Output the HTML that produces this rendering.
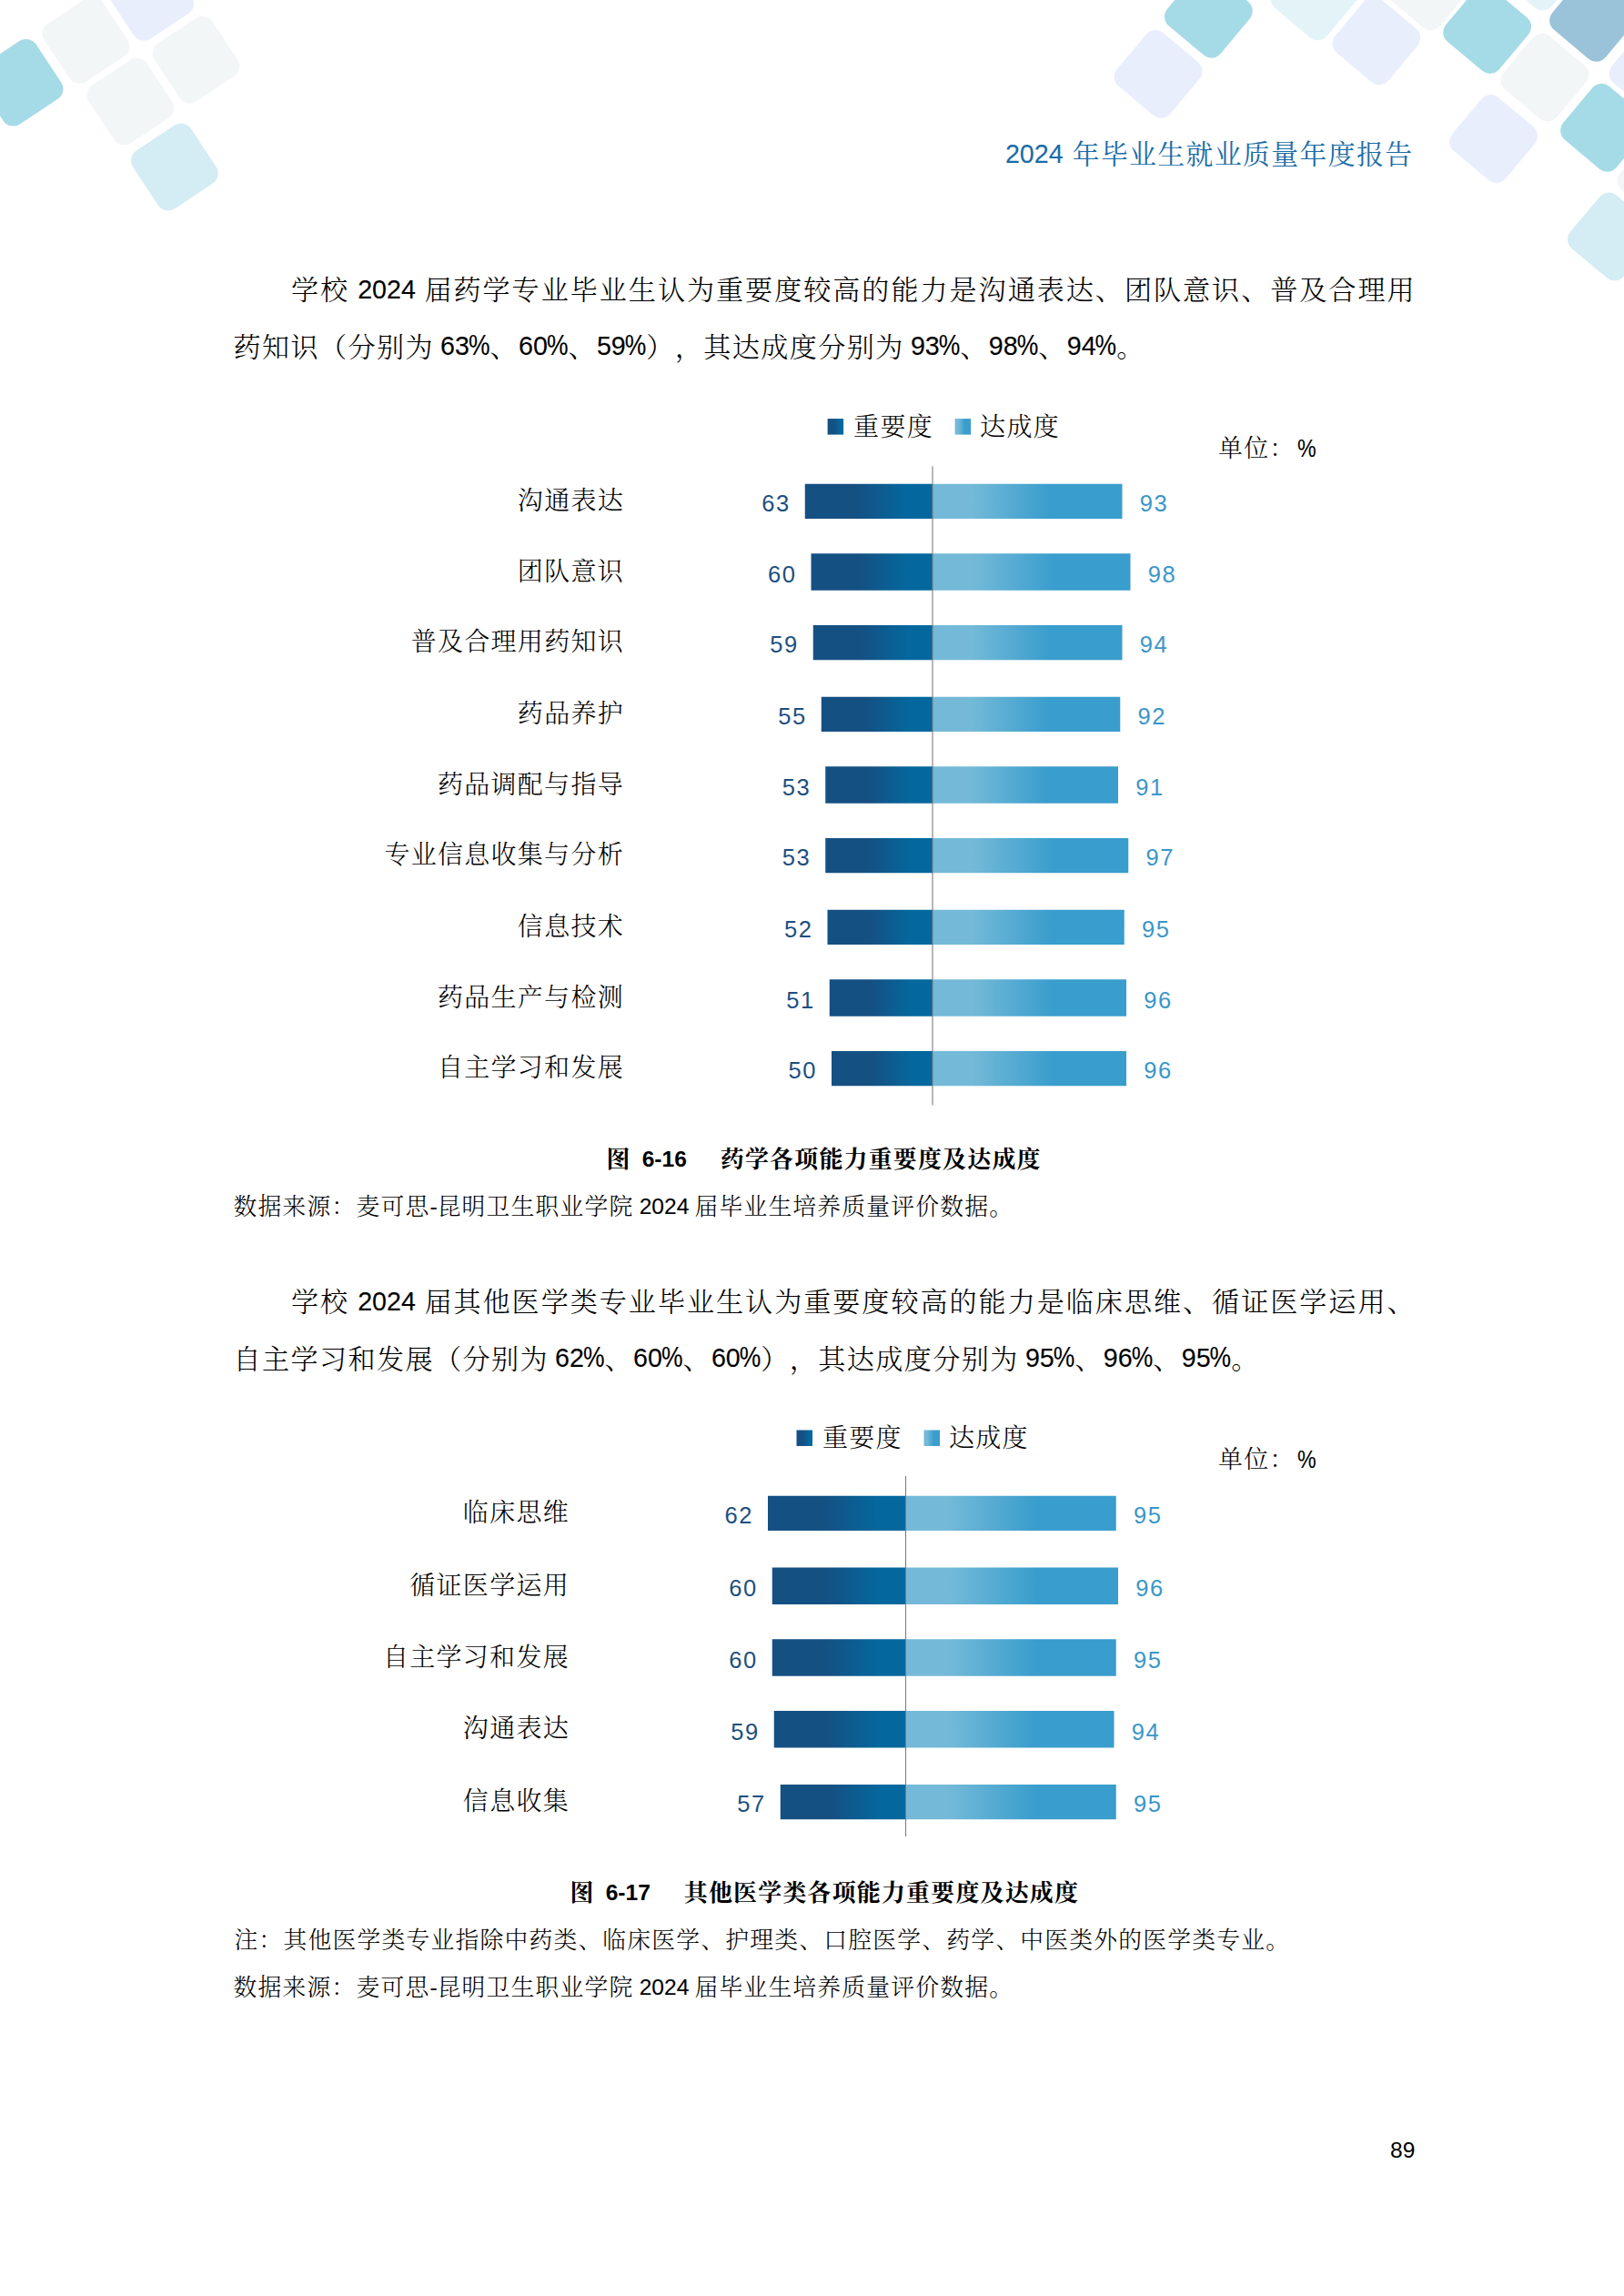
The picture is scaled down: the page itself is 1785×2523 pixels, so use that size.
<!DOCTYPE html>
<html lang="zh-CN"><head><meta charset="utf-8"><title>2024 年毕业生就业质量年度报告</title>
<style>
html,body{margin:0;padding:0;background:#fff}
body{width:1785px;height:2523px;position:relative;overflow:hidden;color:#000;
 font-family:"Liberation Sans","Noto Serif CJK SC",serif;text-spacing-trim:space-all;font-kerning:none;font-weight:300}
.n,.pc{font-weight:400;-webkit-text-stroke:.12px}
.bd,.bd .n{font-weight:700;-webkit-text-stroke:0}
.t{position:absolute;white-space:nowrap;line-height:1;margin:0;padding:0}
.j{text-align:justify;text-align-last:justify;white-space:normal}
.n{letter-spacing:0;position:relative}
.pc{letter-spacing:0;display:inline-block;transform:scaleY(1.17);transform-origin:50% 84.6%}
.sp{display:inline-block;height:1px}
.v{font-size:25.5px;letter-spacing:1.5px;font-weight:400}
svg{position:absolute;left:0;top:0}
</style></head><body>
<svg width="1785" height="360" viewBox="0 0 1785 360">
<rect x="-16.60" y="52.55" width="76.4" height="76.4" rx="13.2" fill="#a5dbe7" transform="rotate(-33.5 21.60 90.75)"/>
<rect x="56.30" y="5.80" width="76.4" height="76.4" rx="13.2" fill="#f3f6f7" transform="rotate(-33.5 94.50 44.00)"/>
<rect x="127.00" y="-41.30" width="76.4" height="76.4" rx="13.2" fill="#e8eefb" transform="rotate(-33.5 165.20 -3.10)"/>
<rect x="177.30" y="27.40" width="76.4" height="76.4" rx="13.2" fill="#f3f6f7" transform="rotate(-33.5 215.50 65.60)"/>
<rect x="105.25" y="73.40" width="76.4" height="76.4" rx="13.2" fill="#f3f6f7" transform="rotate(-33.5 143.45 111.60)"/>
<rect x="153.70" y="145.30" width="76.4" height="76.4" rx="13.2" fill="#d4ecf3" transform="rotate(-33.5 191.90 183.50)"/>
<rect x="1290.20" y="-23.00" width="76.4" height="76.4" rx="13.2" fill="#a5dbe7" transform="rotate(40 1328.40 15.20)"/>
<rect x="1234.90" y="43.20" width="76.4" height="76.4" rx="13.2" fill="#e8eefb" transform="rotate(40 1273.10 81.40)"/>
<rect x="1407.10" y="-42.40" width="76.4" height="76.4" rx="13.2" fill="#e3f3f8" transform="rotate(40 1445.30 -4.20)"/>
<rect x="1474.70" y="6.60" width="76.4" height="76.4" rx="13.2" fill="#e8eefb" transform="rotate(40 1512.90 44.80)"/>
<rect x="1531.40" y="-53.40" width="76.4" height="76.4" rx="13.2" fill="#f3f6f7" transform="rotate(40 1569.60 -15.20)"/>
<rect x="1596.45" y="-5.70" width="76.4" height="76.4" rx="13.2" fill="#a5dbe7" transform="rotate(40 1634.65 32.50)"/>
<rect x="1659.70" y="46.90" width="76.4" height="76.4" rx="13.2" fill="#f3f6f7" transform="rotate(40 1697.90 85.10)"/>
<rect x="1603.40" y="114.30" width="76.4" height="76.4" rx="13.2" fill="#e8eefb" transform="rotate(40 1641.60 152.50)"/>
<rect x="1713.30" y="-18.90" width="76.4" height="76.4" rx="13.2" fill="#9ac3d9" transform="rotate(40 1751.50 19.30)"/>
<rect x="1725.30" y="102.10" width="76.4" height="76.4" rx="13.2" fill="#a5dbe7" transform="rotate(40 1763.50 140.30)"/>
<rect x="1778.90" y="39.50" width="76.4" height="76.4" rx="13.2" fill="#e8eefb" transform="rotate(40 1817.10 77.70)"/>
<rect x="1787.80" y="157.20" width="76.4" height="76.4" rx="13.2" fill="#f3f6f7" transform="rotate(40 1826.00 195.40)"/>
<rect x="1733.30" y="221.80" width="76.4" height="76.4" rx="13.2" fill="#d4ecf3" transform="rotate(40 1771.50 260.00)"/>
<rect x="1654.00" y="-75.20" width="76.4" height="76.4" rx="13.2" fill="#e3f3f8" transform="rotate(40 1692.20 -37.00)"/>
</svg>
<div class="t" id="hdr" style="right:231.5px;top:154.5px;font-size:29.84px;letter-spacing:1.41px;color:#1b6ca6;font-weight:400;"><span class="n" style="font-size:28.67px;top:-1px">2024</span><span class="sp" style="width:10.00px"></span>年毕业生就业质量年度报告</div>
<div class="t j" id="p1a" style="left:320px;top:304px;font-size:30.08px;letter-spacing:1.42px;width:1236px;">学校<span class="sp" style="width:9.00px"></span><span class="n" style="font-size:28.67px;top:-1.2px">2024</span><span class="sp" style="width:9.00px"></span>届药学专业毕业生认为重要度较高的能力是沟通表达、团队意识、普及合理用</div>
<div class="t" id="p1b" style="left:256.5px;top:366.5px;font-size:30.08px;letter-spacing:1.42px;">药知识（分别为<span class="sp" style="width:7.12px"></span><span class="n" style="font-size:28.67px;top:-1.2px">63<span class="pc" style="font-size:26.46px;margin-left:-1px">%</span></span>、<span class="n" style="font-size:28.67px;top:-1.2px">60<span class="pc" style="font-size:26.46px;margin-left:-1px">%</span></span>、<span class="n" style="font-size:28.67px;top:-1.2px">59<span class="pc" style="font-size:26.46px;margin-left:-1px">%</span></span>），其达成度分别为<span class="sp" style="width:7.12px"></span><span class="n" style="font-size:28.67px;top:-1.2px">93<span class="pc" style="font-size:26.46px;margin-left:-1px">%</span></span>、<span class="n" style="font-size:28.67px;top:-1.2px">98<span class="pc" style="font-size:26.46px;margin-left:-1px">%</span></span>、<span class="n" style="font-size:28.67px;top:-1.2px">94<span class="pc" style="font-size:26.46px;margin-left:-1px">%</span></span>。</div>
<div class="t j" id="p2a" style="left:320px;top:1416px;font-size:30.08px;letter-spacing:1.42px;width:1236px;">学校<span class="sp" style="width:9.00px"></span><span class="n" style="font-size:28.67px;top:-1.2px">2024</span><span class="sp" style="width:9.00px"></span>届其他医学类专业毕业生认为重要度较高的能力是临床思维、循证医学运用、</div>
<div class="t" id="p2b" style="left:256.5px;top:1478.5px;font-size:30.08px;letter-spacing:1.42px;">自主学习和发展（分别为<span class="sp" style="width:7.12px"></span><span class="n" style="font-size:28.67px;top:-1.2px">62<span class="pc" style="font-size:26.46px;margin-left:-1px">%</span></span>、<span class="n" style="font-size:28.67px;top:-1.2px">60<span class="pc" style="font-size:26.46px;margin-left:-1px">%</span></span>、<span class="n" style="font-size:28.67px;top:-1.2px">60<span class="pc" style="font-size:26.46px;margin-left:-1px">%</span></span>），其达成度分别为<span class="sp" style="width:7.12px"></span><span class="n" style="font-size:28.67px;top:-1.2px">95<span class="pc" style="font-size:26.46px;margin-left:-1px">%</span></span>、<span class="n" style="font-size:28.67px;top:-1.2px">96<span class="pc" style="font-size:26.46px;margin-left:-1px">%</span></span>、<span class="n" style="font-size:28.67px;top:-1.2px">95<span class="pc" style="font-size:26.46px;margin-left:-1px">%</span></span>。</div>
<svg width="1785" height="2523" viewBox="0 0 1785 2523" style="pointer-events:none">
<defs><linearGradient id="c1gd" x1="0" y1="0" x2="1" y2="0"><stop offset="0" stop-color="#155083"/><stop offset=".40" stop-color="#155083"/><stop offset=".80" stop-color="#04689e"/><stop offset="1" stop-color="#04689e"/></linearGradient>
<linearGradient id="c1gl" x1="0" y1="0" x2="1" y2="0"><stop offset="0" stop-color="#74bad8"/><stop offset=".20" stop-color="#74bad8"/><stop offset=".62" stop-color="#399dcd"/><stop offset="1" stop-color="#399dcd"/></linearGradient></defs>
<rect x="884.75" y="531.75" width="140.25" height="38.25" fill="url(#c1gd)"/>
<rect x="1025.00" y="531.75" width="208.50" height="38.25" fill="url(#c1gl)"/>
<rect x="891.50" y="608.25" width="133.50" height="40.50" fill="url(#c1gd)"/>
<rect x="1025.00" y="608.25" width="217.50" height="40.50" fill="url(#c1gl)"/>
<rect x="893.75" y="687.00" width="131.25" height="38.25" fill="url(#c1gd)"/>
<rect x="1025.00" y="687.00" width="208.50" height="38.25" fill="url(#c1gl)"/>
<rect x="902.75" y="765.75" width="122.25" height="38.25" fill="url(#c1gd)"/>
<rect x="1025.00" y="765.75" width="206.25" height="38.25" fill="url(#c1gl)"/>
<rect x="907.25" y="842.25" width="117.75" height="40.50" fill="url(#c1gd)"/>
<rect x="1025.00" y="842.25" width="204.00" height="40.50" fill="url(#c1gl)"/>
<rect x="907.25" y="921.00" width="117.75" height="38.25" fill="url(#c1gd)"/>
<rect x="1025.00" y="921.00" width="215.25" height="38.25" fill="url(#c1gl)"/>
<rect x="909.50" y="999.75" width="115.50" height="38.25" fill="url(#c1gd)"/>
<rect x="1025.00" y="999.75" width="210.75" height="38.25" fill="url(#c1gl)"/>
<rect x="911.75" y="1076.25" width="113.25" height="40.50" fill="url(#c1gd)"/>
<rect x="1025.00" y="1076.25" width="213.00" height="40.50" fill="url(#c1gl)"/>
<rect x="914.00" y="1155.00" width="111.00" height="38.25" fill="url(#c1gd)"/>
<rect x="1025.00" y="1155.00" width="213.00" height="38.25" fill="url(#c1gl)"/>
<rect x="1024.45" y="512.30" width="1.1" height="702.20" fill="#7d7d7d"/>
<rect x="909.60" y="460.10" width="17.5" height="17.5" fill="url(#c1gd)"/>
<rect x="1049.60" y="460.10" width="17.5" height="17.5" fill="url(#c1gl)"/>
</svg>
<div class="t" id="c1lg1" style="left:938.1px;top:455.6px;font-size:27.98px;letter-spacing:1.32px;">重要度</div>
<div class="t" id="c1lg2" style="left:1077.1px;top:455.6px;font-size:27.98px;letter-spacing:1.32px;">达成度</div>
<div class="t" id="c1un" style="left:1339px;top:480px;font-size:26.93px;letter-spacing:1.27px;">单位：<span class="n" style="font-size:27px;top:0px;margin-left:2px;display:inline-block;transform:scaleX(.86);transform-origin:0 50%">%</span></div>
<div class="t" id="c1l0" style="right:1099px;top:536.975px;font-size:27.98px;letter-spacing:1.32px;">沟通表达</div>
<div class="t v" id="c1a0" style="right:916.35px;top:541.225px;color:#1d4f80">63</div>
<div class="t v" id="c1b0" style="left:1252.8px;top:541.225px;color:#3a96c8">93</div>
<div class="t" id="c1l1" style="right:1099px;top:614.6px;font-size:27.98px;letter-spacing:1.32px;">团队意识</div>
<div class="t v" id="c1a1" style="right:909.6px;top:618.85px;color:#1d4f80">60</div>
<div class="t v" id="c1b1" style="left:1261.8px;top:618.85px;color:#3a96c8">98</div>
<div class="t" id="c1l2" style="right:1099px;top:692.225px;font-size:27.98px;letter-spacing:1.32px;">普及合理用药知识</div>
<div class="t v" id="c1a2" style="right:907.35px;top:696.475px;color:#1d4f80">59</div>
<div class="t v" id="c1b2" style="left:1252.8px;top:696.475px;color:#3a96c8">94</div>
<div class="t" id="c1l3" style="right:1099px;top:770.975px;font-size:27.98px;letter-spacing:1.32px;">药品养护</div>
<div class="t v" id="c1a3" style="right:898.35px;top:775.225px;color:#1d4f80">55</div>
<div class="t v" id="c1b3" style="left:1250.55px;top:775.225px;color:#3a96c8">92</div>
<div class="t" id="c1l4" style="right:1099px;top:848.6px;font-size:27.98px;letter-spacing:1.32px;">药品调配与指导</div>
<div class="t v" id="c1a4" style="right:893.85px;top:852.85px;color:#1d4f80">53</div>
<div class="t v" id="c1b4" style="left:1248.3px;top:852.85px;color:#3a96c8">91</div>
<div class="t" id="c1l5" style="right:1099px;top:926.225px;font-size:27.98px;letter-spacing:1.32px;">专业信息收集与分析</div>
<div class="t v" id="c1a5" style="right:893.85px;top:930.475px;color:#1d4f80">53</div>
<div class="t v" id="c1b5" style="left:1259.55px;top:930.475px;color:#3a96c8">97</div>
<div class="t" id="c1l6" style="right:1099px;top:1004.98px;font-size:27.98px;letter-spacing:1.32px;">信息技术</div>
<div class="t v" id="c1a6" style="right:891.6px;top:1009.23px;color:#1d4f80">52</div>
<div class="t v" id="c1b6" style="left:1255.05px;top:1009.23px;color:#3a96c8">95</div>
<div class="t" id="c1l7" style="right:1099px;top:1082.6px;font-size:27.98px;letter-spacing:1.32px;">药品生产与检测</div>
<div class="t v" id="c1a7" style="right:889.35px;top:1086.85px;color:#1d4f80">51</div>
<div class="t v" id="c1b7" style="left:1257.3px;top:1086.85px;color:#3a96c8">96</div>
<div class="t" id="c1l8" style="right:1099px;top:1160.22px;font-size:27.98px;letter-spacing:1.32px;">自主学习和发展</div>
<div class="t v" id="c1a8" style="right:887.1px;top:1164.48px;color:#1d4f80">50</div>
<div class="t v" id="c1b8" style="left:1257.3px;top:1164.48px;color:#3a96c8">96</div>
<svg width="1785" height="2523" viewBox="0 0 1785 2523" style="pointer-events:none">
<defs><linearGradient id="c2gd" x1="0" y1="0" x2="1" y2="0"><stop offset="0" stop-color="#155083"/><stop offset=".40" stop-color="#155083"/><stop offset=".80" stop-color="#04689e"/><stop offset="1" stop-color="#04689e"/></linearGradient>
<linearGradient id="c2gl" x1="0" y1="0" x2="1" y2="0"><stop offset="0" stop-color="#74bad8"/><stop offset=".20" stop-color="#74bad8"/><stop offset=".62" stop-color="#399dcd"/><stop offset="1" stop-color="#399dcd"/></linearGradient></defs>
<rect x="844.00" y="1643.75" width="151.50" height="38.25" fill="url(#c2gd)"/>
<rect x="995.50" y="1643.75" width="231.25" height="38.25" fill="url(#c2gl)"/>
<rect x="848.75" y="1722.50" width="146.75" height="40.50" fill="url(#c2gd)"/>
<rect x="995.50" y="1722.50" width="233.50" height="40.50" fill="url(#c2gl)"/>
<rect x="848.75" y="1801.25" width="146.75" height="40.50" fill="url(#c2gd)"/>
<rect x="995.50" y="1801.25" width="231.25" height="40.50" fill="url(#c2gl)"/>
<rect x="850.75" y="1880.00" width="144.75" height="40.50" fill="url(#c2gd)"/>
<rect x="995.50" y="1880.00" width="229.00" height="40.50" fill="url(#c2gl)"/>
<rect x="857.75" y="1961.00" width="137.75" height="38.25" fill="url(#c2gd)"/>
<rect x="995.50" y="1961.00" width="231.25" height="38.25" fill="url(#c2gl)"/>
<rect x="994.95" y="1622.00" width="1.1" height="396.00" fill="#7d7d7d"/>
<rect x="875.50" y="1571.50" width="17.5" height="17.5" fill="url(#c2gd)"/>
<rect x="1015.50" y="1571.50" width="17.5" height="17.5" fill="url(#c2gl)"/>
</svg>
<div class="t" id="c2lg1" style="left:904px;top:1567px;font-size:27.98px;letter-spacing:1.32px;">重要度</div>
<div class="t" id="c2lg2" style="left:1043px;top:1567px;font-size:27.98px;letter-spacing:1.32px;">达成度</div>
<div class="t" id="c2un" style="left:1339px;top:1591px;font-size:26.93px;letter-spacing:1.27px;">单位：<span class="n" style="font-size:27px;top:0px;margin-left:2px;display:inline-block;transform:scaleX(.86);transform-origin:0 50%">%</span></div>
<div class="t" id="c2l0" style="right:1159px;top:1648.97px;font-size:27.98px;letter-spacing:1.32px;">临床思维</div>
<div class="t v" id="c2a0" style="right:957.1px;top:1653.23px;color:#1d4f80">62</div>
<div class="t v" id="c2b0" style="left:1246.05px;top:1653.23px;color:#3a96c8">95</div>
<div class="t" id="c2l1" style="right:1159px;top:1728.85px;font-size:27.98px;letter-spacing:1.32px;">循证医学运用</div>
<div class="t v" id="c2a1" style="right:952.35px;top:1733.1px;color:#1d4f80">60</div>
<div class="t v" id="c2b1" style="left:1248.3px;top:1733.1px;color:#3a96c8">96</div>
<div class="t" id="c2l2" style="right:1159px;top:1807.6px;font-size:27.98px;letter-spacing:1.32px;">自主学习和发展</div>
<div class="t v" id="c2a2" style="right:952.35px;top:1811.85px;color:#1d4f80">60</div>
<div class="t v" id="c2b2" style="left:1246.05px;top:1811.85px;color:#3a96c8">95</div>
<div class="t" id="c2l3" style="right:1159px;top:1886.35px;font-size:27.98px;letter-spacing:1.32px;">沟通表达</div>
<div class="t v" id="c2a3" style="right:950.35px;top:1890.6px;color:#1d4f80">59</div>
<div class="t v" id="c2b3" style="left:1243.8px;top:1890.6px;color:#3a96c8">94</div>
<div class="t" id="c2l4" style="right:1159px;top:1966.22px;font-size:27.98px;letter-spacing:1.32px;">信息收集</div>
<div class="t v" id="c2a4" style="right:943.35px;top:1970.48px;color:#1d4f80">57</div>
<div class="t v" id="c2b4" style="left:1246.05px;top:1970.48px;color:#3a96c8">95</div>
<div class="t bd" id="cap1" style="left:666.5px;top:1261.5px;font-size:25.93px;letter-spacing:1.22px;font-weight:700;">图<span class="sp" style="width:12px"></span><span class="n" style="font-size:24.57px;top:-1px">6-16</span><span class="sp" style="width:37px"></span>药学各项能力重要度及达成度</div>
<div class="t" id="src1" style="left:256.5px;top:1314px;font-size:25.79px;letter-spacing:1.21px;">数据来源：麦可思<span class="n" style="font-size:24.57px;top:-1px">-</span>昆明卫生职业学院<span class="sp" style="width:6.10px"></span><span class="n" style="font-size:24.57px;top:-1px">2024</span><span class="sp" style="width:6.10px"></span>届毕业生培养质量评价数据。</div>
<div class="t bd" id="cap2" style="left:626.5px;top:2067.75px;font-size:25.93px;letter-spacing:1.22px;font-weight:700;">图<span class="sp" style="width:12px"></span><span class="n" style="font-size:24.57px;top:-1px">6-17</span><span class="sp" style="width:37px"></span>其他医学类各项能力重要度及达成度</div>
<div class="t" id="note2" style="left:257.5px;top:2120px;font-size:25.79px;letter-spacing:1.21px;">注：其他医学类专业指除中药类、临床医学、护理类、口腔医学、药学、中医类外的医学类专业。</div>
<div class="t" id="src2" style="left:256.5px;top:2172px;font-size:25.79px;letter-spacing:1.21px;">数据来源：麦可思<span class="n" style="font-size:24.57px;top:-1px">-</span>昆明卫生职业学院<span class="sp" style="width:6.10px"></span><span class="n" style="font-size:24.57px;top:-1px">2024</span><span class="sp" style="width:6.10px"></span>届毕业生培养质量评价数据。</div>
<div class="t" id="pg" style="left:1528px;top:2351px;font-size:24.5px">89</div>
</body></html>
